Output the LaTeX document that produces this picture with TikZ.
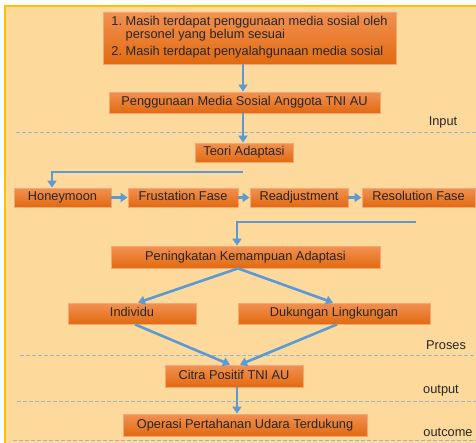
\documentclass[tikz,border=0pt]{standalone}
\usepackage{fontspec}
\setmainfont{Liberation Sans}
\usetikzlibrary{arrows.meta,calc}
\definecolor{bgc}{HTML}{FDD99B}
\definecolor{gold}{HTML}{FFC000}
\definecolor{boxtop}{HTML}{F19152}
\definecolor{boxbot}{HTML}{E26A10}
\definecolor{boxedge}{HTML}{F5A873}
\definecolor{arrc}{HTML}{5B9BD5}
\definecolor{dashc}{HTML}{9DB5C6}
\definecolor{txt}{HTML}{262626}
\newcommand{\fsz}{\fontsize{12.8}{12}\selectfont}
\tikzset{
  box/.style={draw=boxedge, line width=0.8pt, top color=boxtop, bottom color=boxbot,
    text=txt, font=\fsz, inner sep=0pt, align=center},
  onel/.style={text height=9pt, text depth=2.6pt},
  arr/.style={draw=arrc, line width=2.6pt, -{Triangle[length=7pt,width=9pt]}},
  sep/.style={draw=dashc, line width=1pt, dash pattern=on 4pt off 2pt},
  lbl/.style={text=txt, font=\fsz, inner sep=0pt}
}
\begin{document}
\begin{tikzpicture}[x=1pt,y=-1pt]
\useasboundingbox (0,0) rectangle (476,442);
\fill[bgc] (5,6) rectangle (490,450);
\draw[gold, line width=1.6pt] (5,450) -- (5,6) -- (490,6);

% separators
\draw[sep] (16,132) -- (476,132);
\draw[sep] (20,355) -- (476,355);
\draw[sep] (17,401) -- (476,401);
\draw[sep] (13,440) -- (476,440);

% labels
\node[lbl] (lin) at (443,122) {Input};
\node[lbl] (lpr) at (446,345) {Proses};
\node[lbl] (lout) at (441,391) {output};
\node[lbl] (loc) at (448,432) {outcome};

% boxes
\node[box, minimum width=293pt, minimum height=52pt] (b1) at (249.5,38)
 {\begin{tabular}{@{}r@{\ }l@{}}1. & Masih terdapat penggunaan media sosial oleh\\ & personel yang belum sesuai\\[4pt] 2. & Masih terdapat penyalahgunaan media sosial\end{tabular}};
\node[box, onel, minimum width=271pt, minimum height=21pt] (b2) at (244.5,102.5) {Penggunaan Media Sosial Anggota TNI AU};
\node[box, onel, minimum width=98pt, minimum height=19pt] (teori) at (244,152.5) {Teori Adaptasi};
\node[box, onel, minimum width=97pt, minimum height=19pt] (honey) at (62.5,197.5) {Honeymoon};
\node[box, onel, minimum width=110pt, minimum height=19pt] (frust) at (183,197.5) {Frustation Fase};
\node[box, onel, minimum width=98pt, minimum height=19pt] (readj) at (299,197.5) {Readjustment};
\node[box, onel, minimum width=113pt, minimum height=19pt] (resol) at (418.5,197.5) {Resolution Fase};
\node[box, onel, minimum width=269pt, minimum height=22pt] (pening) at (245.5,257) {Peningkatan Kemampuan Adaptasi};
\node[box, onel, minimum width=128pt, minimum height=21pt] (indiv) at (132,313.5) {Individu};
\node[box, onel, minimum width=192pt, minimum height=21pt] (dukung) at (334,313.5) {Dukungan Lingkungan};
\node[box, onel, minimum width=138pt, minimum height=22pt] (citra) at (234,376) {Citra Positif TNI AU};
\node[box, onel, minimum width=244pt, minimum height=22pt] (oper) at (245,425) {Operasi Pertahanan Udara Terdukung};

% connectors
\coordinate (t1) at (243,172);
\coordinate (r1) at (416,222);
\draw[arr] ([xshift=-6.5pt]b1.south) -- ([xshift=-6.5pt]b1.south |- b2.north);
\draw[arr] ([xshift=-1.5pt]b2.south) -- ([xshift=-1pt]teori.north);
\draw[arr] (t1) -| ([xshift=-10.5pt]honey.north);
\draw[arr] (honey.east) -- (frust.west);
\draw[arr] (frust.east) -- (readj.west);
\draw[arr] (readj.east) -- (resol.west);
\draw[arr] (r1) -| ([xshift=-8.5pt]pening.north);
\draw[arr] ([xshift=-7.5pt]pening.south) -- ([xshift=6pt]indiv.north);
\draw[arr] ([xshift=-7.5pt]pening.south) -- ([xshift=-1pt]dukung.north);
\draw[arr] ([xshift=3pt]indiv.south) -- ([xshift=-4pt]citra.north);
\draw[arr] ([xshift=3pt]dukung.south) -- ([xshift=6pt]citra.north);
\draw[arr] ([xshift=3pt]citra.south) -- ([xshift=3pt]citra.south |- oper.north);
\end{tikzpicture}
\end{document}
